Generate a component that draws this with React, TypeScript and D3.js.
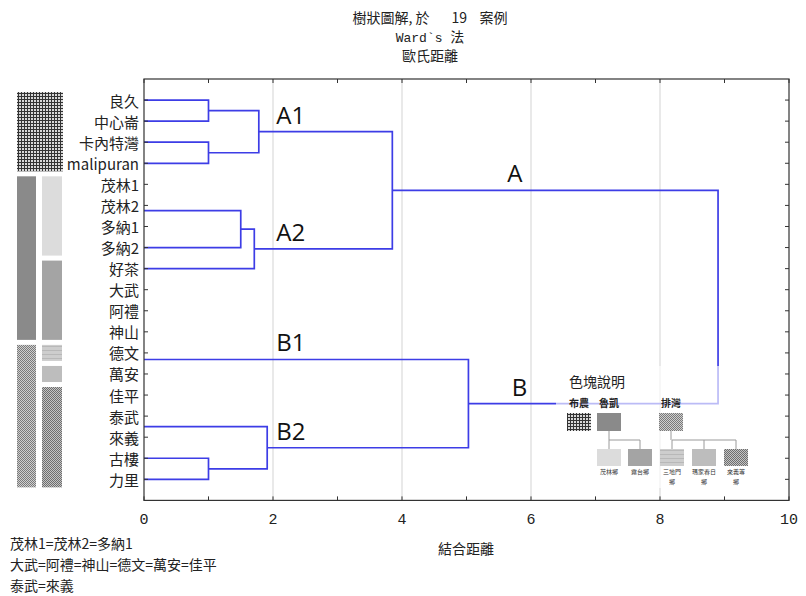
import React from "react";
import * as d3 from "d3";

const titleMain = "樹狀圖解, 於       19    案例";
const titleMethodLatin = "Ward`s ";
const titleMethodCjk = "法";
const titleMetric = "歐氏距離";
const xTitle = "結合距離";

const leaves = ["良久", "中心崙", "卡內特灣", "malipuran", "茂林1", "茂林2", "多納1", "多納2", "好茶", "大武", "阿禮", "神山", "德文", "萬安", "佳平", "泰武", "來義", "古樓", "力里"];

// linkage rows: [childA, childB, height]; ids < 19 are leaves, merge k gets id 19 + k
const merges: [number, number, number][] = [
  [0, 1, 1.0],
  [2, 3, 1.0],
  [19, 20, 1.78],
  [4, 5, 0],
  [22, 6, 0],
  [23, 7, 1.5],
  [24, 8, 1.71],
  [21, 25, 3.85],
  [9, 10, 0],
  [27, 11, 0],
  [28, 12, 0],
  [13, 14, 0],
  [29, 30, 0],
  [15, 16, 0],
  [17, 18, 1.0],
  [32, 33, 1.91],
  [31, 34, 5.03],
  [26, 35, 8.9],
];

const clusterNames = ["A1", "A2", "A", "B1", "B2", "B"];
const clusterNodes = [21, 25, 26, 31, 34, 35];
const clusterLabelAt = [2.05, 2.05, 5.63, 2.05, 2.05, 5.7];

const xTickValues = [0, 1, 2, 3, 4, 5, 6, 7, 8, 9, 10];
const xTickLabels = [0, 2, 4, 6, 8, 10];
const gridValues = [2, 4, 6, 8];

const tribes = ["布農", "魯凱", "排灣"];
const leafTribe = ["布農", "布農", "布農", "布農", "魯凱", "魯凱", "魯凱", "魯凱", "魯凱", "魯凱", "魯凱", "魯凱", "排灣", "排灣", "排灣", "排灣", "排灣", "排灣", "排灣"];
const townships = ["茂林鄉", "霧台鄉", "三地門鄉", "瑪家春日鄉", "來義等鄉"];
const townshipTribe = ["魯凱", "魯凱", "排灣", "排灣", "排灣"];
const leafTownship = ["", "", "", "", "茂林鄉", "茂林鄉", "茂林鄉", "茂林鄉", "霧台鄉", "霧台鄉", "霧台鄉", "霧台鄉", "三地門鄉", "瑪家春日鄉", "來義等鄉", "來義等鄉", "來義等鄉", "來義等鄉", "來義等鄉"];

const ties = [
  ["茂林1", "茂林2", "多納1"],
  ["大武", "阿禮", "神山", "德文", "萬安", "佳平"],
  ["泰武", "來義"],
];

const CJK = "'Noto Sans CJK TC', 'Noto Sans CJK SC', sans-serif";
const MONO = "'Liberation Mono', 'DejaVu Sans Mono', monospace";
const LINE = "#3d3de6";

const tribeFill: Record<string, string> = {
  "布農": "url(#pBunun)",
  "魯凱": "#8a8a8a",
  "排灣": "url(#pPaiwan)",
};
const townshipFill: Record<string, string> = {
  "茂林鄉": "#dcdcdc",
  "霧台鄉": "#a4a4a4",
  "三地門鄉": "url(#pStripe)",
  "瑪家春日鄉": "#bdbdbd",
  "來義等鄉": "url(#pPaiwan2)",
};

function runs(arr: string[]) {
  const out: { key: string; from: number; to: number }[] = [];
  arr.forEach((k, i) => {
    const last = out[out.length - 1];
    if (last && last.key === k) last.to = i;
    else out.push({ key: k, from: i, to: i });
  });
  return out;
}

export default function App() {
  const W = 806, H = 596;
  const x = d3.scaleLinear().domain([0, 10]).range([144, 789]);
  const y = d3.scalePoint<string>().domain(leaves).range([79, 500.4]).padding(1);
  const step = y.step();
  const [x0, x1] = x.range();
  const [y0, y1] = y.range();

  const nodes: { h: number; y: number }[] = leaves.map((l) => ({ h: 0, y: y(l) as number }));
  merges.forEach(([a, b, h]) => nodes.push({ h, y: (nodes[a].y + nodes[b].y) / 2 }));

  const paths = merges
    .filter(([, , h]) => h > 0)
    .map(([a, b, h]) => {
      const p = d3.path();
      p.moveTo(x(nodes[a].h), nodes[a].y);
      p.lineTo(x(h), nodes[a].y);
      p.lineTo(x(h), nodes[b].y);
      p.lineTo(x(nodes[b].h), nodes[b].y);
      return p.toString();
    });

  const blockY = (from: number, to: number) => {
    const a = (y(leaves[from]) as number) - step / 2 + 2.5;
    const b = (y(leaves[to]) as number) + step / 2 - 2.5;
    return [a, b - a];
  };

  const tribeRuns = runs(leafTribe);
  const townRuns = runs(leafTownship).filter((r) => r.key !== "");

  // legend layout
  const sw = 24, sh = 18;
  const tribeX = [567, 597, 659];
  const tribeSwY = 413;
  const childY = 449;
  const childXs: Record<string, number> = { "茂林鄉": 597, "霧台鄉": 628, "三地門鄉": 660, "瑪家春日鄉": 692, "來義等鄉": 724 };

  const splitLabel = (s: string) => {
    if (s.length <= 3) return [s];
    return [s.slice(0, s.length - 1), s.slice(s.length - 1)];
  };

  return (
    <svg width={W} height={H} style={{ position: "absolute", left: 0, top: 0, background: "#fff" }}>
      <defs>
        <pattern id="pBunun" width="3" height="3" patternUnits="userSpaceOnUse">
          <rect width="3" height="3" fill="#d8d8d8" />
          <rect width="3" height="1" fill="#333" />
          <rect width="1" height="3" fill="#333" />
        </pattern>
        <pattern id="pPaiwan" width="2" height="2" patternUnits="userSpaceOnUse">
          <rect width="2" height="2" fill="#cfcfcf" />
          <rect width="1" height="1" fill="#7a7a7a" />
          <rect x="1" y="1" width="1" height="1" fill="#7a7a7a" />
        </pattern>
        <pattern id="pPaiwan2" width="2" height="2" patternUnits="userSpaceOnUse">
          <rect width="2" height="2" fill="#c4c4c4" />
          <rect width="1" height="1" fill="#6e6e6e" />
          <rect x="1" y="1" width="1" height="1" fill="#6e6e6e" />
        </pattern>
        <pattern id="pStripe" width="4" height="4" patternUnits="userSpaceOnUse">
          <rect width="4" height="4" fill="#cdcdcd" />
          <rect y="2" width="4" height="1" fill="#b8b8b8" />
        </pattern>
      </defs>

      {/* title */}
      <g fontFamily={CJK} fontSize={14} fill="#222" textAnchor="middle">
        <text x={430} y={23} style={{ whiteSpace: "pre" }}>{titleMain}</text>
        <text x={430} y={42}>
          <tspan fontFamily={MONO} fontSize={13} style={{ whiteSpace: "pre" }}>{titleMethodLatin}</tspan>
          <tspan>{titleMethodCjk}</tspan>
        </text>
        <text x={430} y={61}>{titleMetric}</text>
      </g>

      {/* gridlines */}
      {gridValues.map((v) => (
        <line key={v} x1={x(v)} x2={x(v)} y1={y0} y2={y1} stroke="#e2e2e2" strokeWidth={1.5} />
      ))}

      {/* dendrogram */}
      <g fill="none" stroke={LINE} strokeWidth={1.7}>
        {paths.map((d, i) => (
          <path key={i} d={d} />
        ))}
      </g>

      {/* cluster labels */}
      <g fontFamily="'Open Sans', 'Noto Sans', sans-serif" fontSize={24} fill="#111">
        {clusterNames.map((n, i) => (
          <text key={n} x={x(clusterLabelAt[i])} y={nodes[clusterNodes[i]].y - 8}>{n}</text>
        ))}
      </g>

      {/* legend */}
      <rect x={556} y={366} width={210} height={122} fill="#fff" opacity={0.65} />
      <text x={569} y={387} fontFamily={CJK} fontSize={14} fill="#222">色塊說明</text>
      <g fontFamily={CJK} fontSize={10} fontWeight={600} fill="#222" textAnchor="middle">
        {tribes.map((t, i) => (
          <text key={t} x={tribeX[i] + sw / 2} y={407}>{t}</text>
        ))}
      </g>
      {tribes.map((t, i) => (
        <rect key={t} x={tribeX[i]} y={tribeSwY} width={sw} height={sh} fill={tribeFill[t]} />
      ))}
      <g stroke="#9a9a9a" strokeWidth={1} fill="none">
        {tribes.map((t, i) => {
          const kids = townships.filter((_, k) => townshipTribe[k] === t);
          if (!kids.length) return null;
          const px = tribeX[i] + sw / 2;
          const kx = kids.map((k) => childXs[k] + sw / 2);
          return (
            <path
              key={t}
              d={`M${px},${tribeSwY + sh}V440` + `M${d3.min(kx)},440H${d3.max(kx)}` + kx.map((k) => `M${k},440V${childY}`).join("")}
            />
          );
        })}
      </g>
      {townships.map((t) => (
        <rect key={t} x={childXs[t]} y={childY} width={sw} height={17} fill={townshipFill[t]} />
      ))}
      <g fontFamily={CJK} fontSize={6} fill="#333" textAnchor="middle">
        {townships.map((t) =>
          splitLabel(t).map((s, j) => (
            <text key={t + j} x={childXs[t] + sw / 2} y={474 + j * 9.5}>{s}</text>
          ))
        )}
      </g>

      {/* frame & ticks */}
      <rect x={x0} y={y0} width={x1 - x0} height={y1 - y0} fill="none" stroke="#333" strokeWidth={1.2} />
      <g stroke="#333" strokeWidth={1}>
        {xTickValues.map((v) => (
          <g key={v}>
            <line x1={x(v)} x2={x(v)} y1={y1} y2={y1 - 4} />
            <line x1={x(v)} x2={x(v)} y1={y0} y2={y0 + 4} />
          </g>
        ))}
        {leaves.map((l) => (
          <g key={l}>
            <line x1={x0} x2={x0 + 4} y1={y(l)} y2={y(l)} />
            <line x1={x1} x2={x1 - 4} y1={y(l)} y2={y(l)} />
          </g>
        ))}
      </g>

      {/* x tick labels */}
      <g fontFamily={MONO} fontSize={15} fill="#222" textAnchor="middle">
        {xTickLabels.map((v) => (
          <text key={v} x={x(v)} y={524}>{v}</text>
        ))}
      </g>
      <text x={466} y={554} fontFamily={CJK} fontSize={14} fill="#222" textAnchor="middle">{xTitle}</text>

      {/* leaf labels */}
      <g fontFamily={CJK} fontSize={15} fill="#222" textAnchor="end">
        {leaves.map((l) => (
          <text key={l} x={139} y={y(l)} dominantBaseline="central">{l}</text>
        ))}
      </g>

      {/* left colour blocks */}
      {tribeRuns.map((r) => {
        const [by, bh] = blockY(r.from, r.to);
        const hasTown = leafTownship[r.from] !== "";
        return <rect key={r.key} x={17} y={by} width={hasTown ? 19 : 46} height={bh} fill={tribeFill[r.key]} />;
      })}
      {townRuns.map((r) => {
        const [by, bh] = blockY(r.from, r.to);
        return <rect key={r.key} x={42} y={by} width={20} height={bh} fill={townshipFill[r.key]} />;
      })}

      {/* tie notes */}
      <g fontFamily={CJK} fontSize={14} fill="#222">
        {ties.map((t, i) => (
          <text key={i} x={10} y={549 + i * 21}>{t.join("=")}</text>
        ))}
      </g>
    </svg>
  );
}
